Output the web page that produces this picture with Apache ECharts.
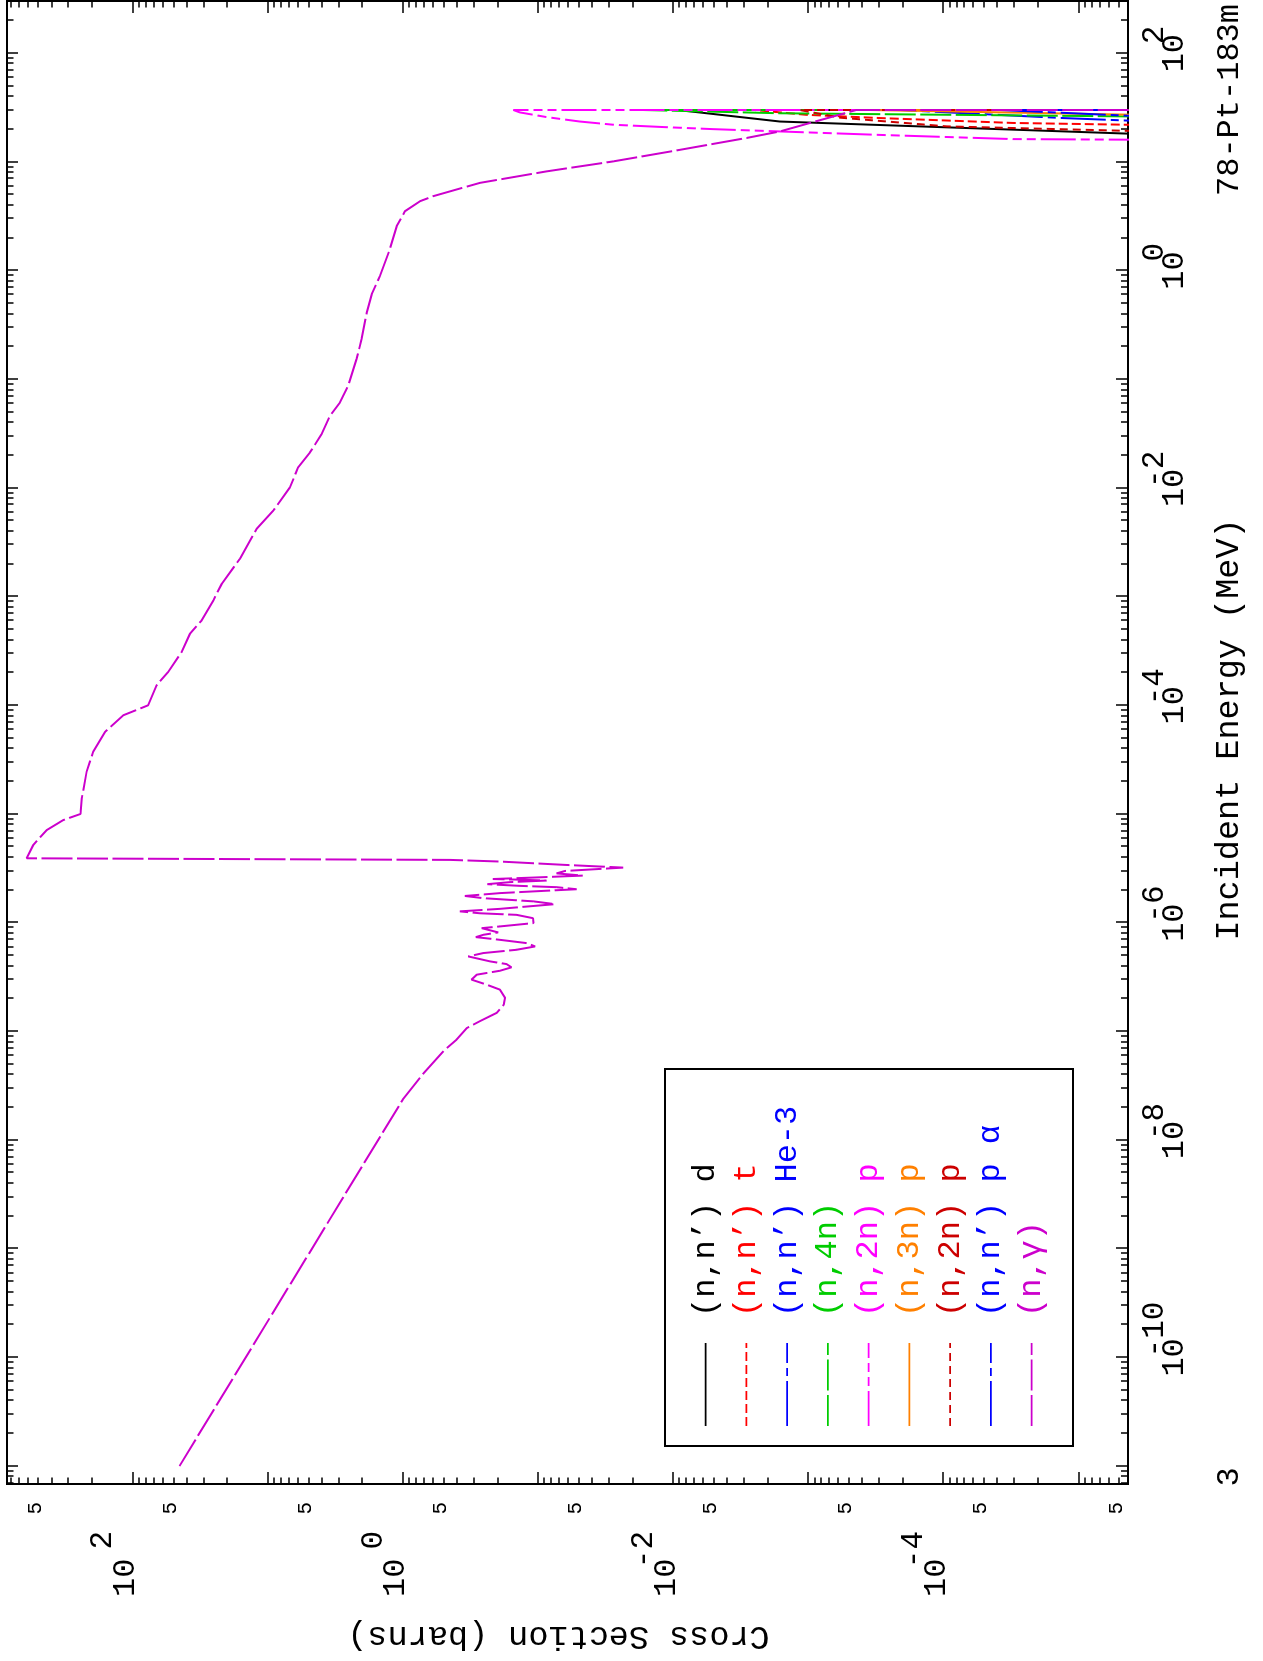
<!DOCTYPE html>
<html>
<head>
<meta charset="utf-8">
<script src="https://cdn.jsdelivr.net/npm/echarts@6.0.0/dist/echarts.min.js"></script>
<style>
html,body{margin:0;padding:0;background:#fff;overflow:hidden;width:1263px;height:1661px;}
#chart{position:absolute;left:0;top:0;width:1661px;height:1263px;transform-origin:0 0;transform:translate(0px,1661px) rotate(-90deg);}
</style>
</head>
<body>
<div id="chart"></div>
<script>
// ---------- DATA (energy in MeV, cross section in barns) ----------
const legendLabels = ["(n,n’) d", "(n,n’) t", "(n,n’) He-3", "(n,4n)", "(n,2n) p", "(n,3n) p", "(n,2n) p", "(n,n’) p α", "(n,γ)"];
const seriesColors = ["#000000", "#ff0000", "#0000ff", "#00cc00", "#ff00ff", "#ff8000", "#cc0000", "#0000ff", "#cc00cc"];

const nnD = [[15, 1e-8], [18.2, 4.4e-6], [23.5, 1.62e-3], [30, 9.2e-3], [30, 1e-9]];
const nnT = [[20, 1e-8], [21.96, 4.4e-6], [22.8, 3.05e-5], [25.3, 2.94e-4], [27.1, 1.03e-3], [30, 2.5e-3], [30, 1e-9]];
const nnHe3 = [[22, 1e-8], [24.0, 4.4e-6], [25.3, 1.3e-5], [30, 2.1e-4], [30, 1e-9]];
const n4n = [[25.5, 1e-8], [26.2, 4.4e-6], [28.0, 1.62e-3], [30, 0.0167], [30, 1e-9]];
const n2nP = [[15.5, 1e-8], [16.0, 4.4e-6], [16.2, 3.05e-5], [17.7, 2.94e-4], [19.05, 1.62e-3], [20.0, 5.04e-3],
  [20.9, 0.0118], [21.96, 0.0277], [23.5, 0.0489], [25.8, 0.086], [28.5, 0.136], [30, 0.152], [30, 1e-9]];
const n3nP = [[26, 1e-8], [27.2, 4.4e-6], [30, 3.5e-4], [30, 1e-9]];
const n2nP2 = [[18.5, 1e-8], [19.3, 4.4e-6], [21.2, 9.4e-5], [25.5, 5.8e-4], [30, 1.15e-3], [30, 1e-9]];
const nnPA = [[25.5, 1e-8], [26.6, 4.4e-6], [30, 3.8e-5], [30, 1e-9]];
const nGamma = [
  [1.0e-11, 45], [2.36e-8, 1.0], [4.13e-8, 0.70], [6.76e-8, 0.49], [8.39e-8, 0.40], [1.07e-7, 0.337],
  [1.24e-7, 0.269], [1.48e-7, 0.202], [1.76e-7, 0.179], [2.03e-7, 0.175], [2.42e-7, 0.191], [2.69e-7, 0.240],
  [2.99e-7, 0.310], [3.32e-7, 0.284], [3.61e-7, 0.191], [3.88e-7, 0.157], [4.16e-7, 0.171], [4.40e-7, 0.226],
  [4.89e-7, 0.328], [5.25e-7, 0.254], [5.63e-7, 0.144], [6.04e-7, 0.105], [6.48e-7, 0.121], [6.95e-7, 0.191],
  [7.36e-7, 0.288], [7.73e-7, 0.254], [8.13e-7, 0.197], [8.90e-7, 0.261], [9.23e-7, 0.191], [9.91e-7, 0.108],
  [1.10e-6, 0.109], [1.18e-6, 0.144], [1.22e-6, 0.269], [1.27e-6, 0.378], [1.34e-6, 0.191], [1.48e-6, 0.0748],
  [1.57e-6, 0.108], [1.68e-6, 0.254], [1.76e-6, 0.347], [1.87e-6, 0.191], [1.96e-6, 0.0914], [2.03e-6, 0.0517],
  [2.12e-6, 0.0727], [2.18e-6, 0.136], [2.26e-6, 0.237], [2.36e-6, 0.161], [2.44e-6, 0.0863], [2.49e-6, 0.144],
  [2.52e-6, 0.216], [2.60e-6, 0.108], [2.71e-6, 0.0467], [2.84e-6, 0.0727], [2.99e-6, 0.063], [3.21e-6, 0.0234],
  [3.40e-6, 0.063], [3.65e-6, 0.191], [3.78e-6, 0.449], [3.91e-6, 609], [5.18e-6, 544], [7.11e-6, 433],
  [8.79e-6, 326], [1.0e-5, 243], [1.39e-5, 238], [2.45e-5, 219], [3.73e-5, 196], [5.70e-5, 160], [8.10e-5, 117],
  [1.0e-4, 76.7], [1.53e-4, 66.4], [2.03e-4, 54.5], [3.09e-4, 43.4], [4.56e-4, 37.6], [6.04e-4, 30.8],
  [9.21e-4, 25.3], [1.31e-3, 21.9], [2.22e-3, 16.1], [4.19e-3, 12.1], [6.18e-3, 9.10], [1.01e-2, 6.85],
  [1.55e-2, 5.95], [2.12e-2, 4.87], [3.13e-2, 3.99], [4.61e-2, 3.46], [6.11e-2, 2.92], [8.68e-2, 2.54],
  [0.153, 2.20], [0.233, 2.02], [0.410, 1.85], [0.604, 1.70], [0.888, 1.48], [1.56, 1.25], [2.56, 1.11],
  [3.51, 0.965], [4.34, 0.747], [4.82, 0.60], [6.40, 0.27], [8.18, 0.086], [10.1, 0.0277], [12.9, 0.0089],
  [16.6, 0.00285], [19.05, 0.00162], [30, 4.4e-4], [30, 1e-9]
];
const seriesData = [nnD, nnT, nnHe3, n4n, n2nP, n3nP, n2nP2, nnPA, nGamma];

// tick labels
const energyLabelExps = [2, 0, -2, -4, -6, -8, -10];
const xsLabelExps = [2, 0, -2, -4];
const xsFiveExps = [2, 1, 0, -1, -2, -3, -4, -5, -6];
const plotTitle = "78-Pt-183m";
const cornerText = "3";
const xTitle = "Incident Energy (MeV)";
const yTitle = "Cross Section (barns)";

// ---------- STYLE / LAYOUT ----------
const FONT = '"Liberation Mono", "DejaVu Sans Mono", monospace';
const E_MIN = 6.84e-12, E_MAX = 302;
const XS_MIN = 4.29e-6, XS_MAX = 851;
const dashes = ["solid", [9, 4], [45, 5, 8, 5], [31, 4.5], [35, 5, 9, 5, 9, 5], "solid", [8, 5], [45, 5, 8, 5], [31, 4.5]];
const GRID = {left: 174, right: 1, top: 7, bottom: 135};

function pows(lo, hi) { const a = []; for (let n = lo; n <= hi; n++) a.push(Math.pow(10, n)); return a; }
function minors(lo, hi, mn, mx) {
  const a = [];
  for (let n = lo; n <= hi; n++) for (let k = 2; k <= 9; k++) { const v = k * Math.pow(10, n); if (v > mn && v < mx) a.push(v); }
  return a;
}
const eMajor = pows(-11, 2), eMinor = minors(-12, 2, E_MIN, E_MAX);
const xsMajor = pows(-5, 2), xsMinor = minors(-6, 2, XS_MIN, XS_MAX);
const eLabelVals = energyLabelExps.map(e => Math.pow(10, e));
const xsLabelVals = xsLabelExps.map(e => Math.pow(10, e));
const xsFiveVals = xsFiveExps.map(e => 5 * Math.pow(10, e));

function expOf(v) { return Math.round(Math.log10(v)); }
const expRich = {
  sp: {fontFamily: FONT, fontSize: 31, lineHeight: 32, width: 9},
  e: {fontFamily: FONT, fontSize: 31, lineHeight: 32, color: '#000'}
};
function energyExpLabel(v) { const e = expOf(v); return e >= 0 ? '{sp| }{e|' + e + '}' : '{e|' + e + '}'; }

const tickLine = {color: '#000', width: 1.5};
function baseAxis() {
  return {type: 'log', logBase: 10, axisLine: {show: false}, splitLine: {show: false}, minorTick: {show: false}};
}
function xAx(pos, ticks, len, label) {
  return Object.assign(baseAxis(), {
    min: E_MIN, max: E_MAX, position: pos,
    axisTick: ticks ? {show: true, inside: true, length: len, customValues: ticks, lineStyle: tickLine} : {show: false},
    axisLabel: label || {show: false}
  });
}
function yAx(pos, ticks, len, label) {
  return Object.assign(baseAxis(), {
    min: XS_MIN, max: XS_MAX, position: pos,
    axisTick: ticks ? {show: true, inside: true, length: len, customValues: ticks, lineStyle: tickLine} : {show: false},
    axisLabel: label || {show: false}
  });
}

const xAxes = [
  Object.assign(xAx('bottom', eMajor, 12, {
    show: true, customValues: eLabelVals, formatter: () => '10', fontFamily: FONT, fontSize: 32, lineHeight: 32,
    margin: 31, align: 'center', color: '#000'
  }), {
    name: xTitle, nameLocation: 'middle', nameGap: 84,
    nameTextStyle: {fontFamily: FONT, fontSize: 33.5, color: '#000', padding: [0, 0, 0, 26]}
  }),
  xAx('bottom', eMinor, 7, {
    show: true, customValues: eLabelVals, formatter: energyExpLabel, rich: expRich, align: 'left',
    margin: 11, color: '#000'
  }),
  xAx('top', eMajor, 11),
  xAx('top', eMinor, 6.5)
];
const yAxes = [
  Object.assign(yAx('left', xsMajor, 12, {
    show: true, customValues: xsLabelVals, formatter: () => '10', fontFamily: FONT, fontSize: 32, lineHeight: 14,
    verticalAlign: 'bottom', margin: 113, align: 'left', color: '#000'
  }), {
    name: yTitle, nameLocation: 'middle', nameGap: 135, nameRotate: 90,
    nameTextStyle: {fontFamily: FONT, fontSize: 33.5, color: '#000', padding: [0, 0, 0, 18]}
  }),
  yAx('left', xsMinor, 6.5, {
    show: true, customValues: xsFiveVals, formatter: () => '5', fontFamily: FONT, fontSize: 21, lineHeight: 6,
    verticalAlign: 'bottom', margin: 18, color: '#000'
  }),
  yAx('right', xsMajor, 12),
  yAx('right', xsMinor, 6.5),
  yAx('left', null, 0, {
    show: true, customValues: xsLabelVals, formatter: v => String(expOf(v)), fontFamily: FONT, fontSize: 31,
    lineHeight: 59, verticalAlign: 'bottom', margin: 47, align: 'right', color: '#000'
  })
];

const series = seriesData.map((d, i) => ({
  type: 'line', name: legendLabels[i] + '#' + i, data: d, xAxisIndex: 0, yAxisIndex: 0,
  symbol: 'none', showSymbol: false, clip: true, silent: true,
  lineStyle: {color: seriesColors[i], width: 2, type: dashes[i]},
  itemStyle: {color: seriesColors[i]}, z: 2 + i
}));

// legend box (drawn as graphic)
const LEG = {x: 215, y: 665, w: 377, h: 408, row0: 705.7, rowGap: 40.75, lineX1: 235, lineX2: 318, textX: 344};
const graphics = [{
  type: 'rect', shape: {x: LEG.x, y: LEG.y, width: LEG.w, height: LEG.h},
  style: {fill: '#fff', stroke: '#000', lineWidth: 2}, z: 50
}];
legendLabels.forEach((lab, i) => {
  const y = LEG.row0 + i * LEG.rowGap;
  graphics.push({
    type: 'line', shape: {x1: LEG.lineX1, y1: y, x2: LEG.lineX2, y2: y},
    style: {stroke: seriesColors[i], lineWidth: 1.8, lineDash: dashes[i] === 'solid' ? null : dashes[i]}, z: 51
  });
  graphics.push({
    type: 'text', x: LEG.textX, y: y, z: 51,
    style: {text: lab, fill: seriesColors[i], font: '32px ' + FONT, verticalAlign: 'middle', align: 'left'}
  });
});
graphics.push({type: 'text', x: 1657, y: 1230, z: 51,
  style: {text: plotTitle, fill: '#000', font: '32px ' + FONT, verticalAlign: 'middle', align: 'right'}});
graphics.push({type: 'text', x: 184, y: 1230, z: 51,
  style: {text: cornerText, fill: '#000', font: '32px ' + FONT, verticalAlign: 'middle', align: 'center'}});

const chart = echarts.init(document.getElementById('chart'), null, {renderer: 'canvas', width: 1661, height: 1263});
chart.setOption({
  animation: false,
  backgroundColor: '#fff',
  textStyle: {fontFamily: FONT, color: '#000'},
  grid: Object.assign({show: true, borderColor: '#000', borderWidth: 2, backgroundColor: 'transparent', containLabel: false}, GRID),
  xAxis: xAxes,
  yAxis: yAxes,
  series: series,
  graphic: {elements: graphics}
});
</script>
</body>
</html>
